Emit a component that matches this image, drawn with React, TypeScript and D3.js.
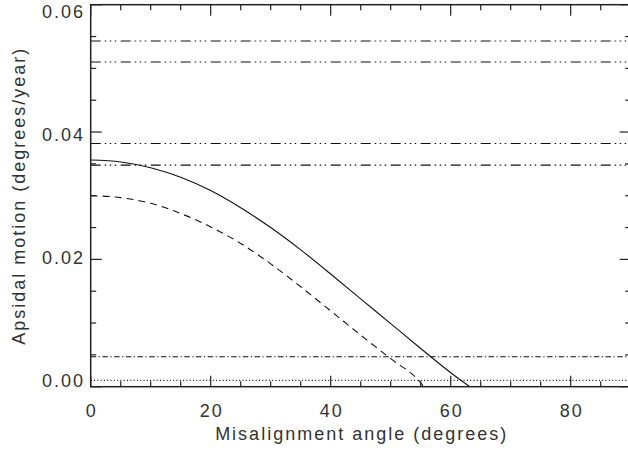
import React from "react";
import * as d3 from "d3";

// Misalignment angle (degrees) and apsidal motion (degrees/year)
const solidAngles = [0, 5, 10, 15, 20, 25, 30, 35, 40, 45, 50, 55, 60, 63.2];
const solidRates = [0.0356, 0.0353, 0.0344, 0.0329, 0.0308, 0.0281, 0.025, 0.0215, 0.0177, 0.0138, 0.0099, 0.006, 0.0022, 0];

const dashedAngles = [0, 5, 10, 15, 20, 25, 30, 35, 40, 45, 50, 55, 55.5];
const dashedRates = [0.03, 0.0297, 0.0288, 0.0272, 0.0251, 0.0225, 0.0193, 0.0157, 0.0119, 0.0081, 0.0044, 0.0006, 0];

// Horizontal reference levels
const dashDotDotLevels = [0.0543, 0.051, 0.0382, 0.0348];
const dashDotLevels = [0.0047];
const dottedLevels = [0.001];

const xTicks = [0, 20, 40, 60, 80];
const yTicks = [0, 0.02, 0.04, 0.06];
const yTickLabels = ["0.00", "0.02", "0.04", "0.06"];

const xTitle = "Misalignment angle (degrees)";
const yTitle = "Apsidal motion (degrees/year)";

const W = 628;
const H = 450;

export default function App() {
  const x = d3.scaleLinear().domain([0, 90]).range([90.7, 630.7]);
  const y = d3.scaleLinear().domain([0, 0.06]).range([386.7, 4.7]);
  // tick labels sit slightly inset from the frame ends
  const yLab = d3.scaleLinear().domain([0, 0.06]).range([381, 12]);

  const line = d3
    .line<[number, number]>()
    .x((d) => x(d[0]))
    .y((d) => y(d[1]))
    .curve(d3.curveMonotoneX);

  const solid = line(solidAngles.map((a, i) => [a, solidRates[i]]) as [number, number][]) || "";
  const dashed = line(dashedAngles.map((a, i) => [a, dashedRates[i]]) as [number, number][]) || "";

  const [x0, x1] = x.range();
  const [y0, y1] = y.range();

  const xMinor = d3.range(0, 90.001, 5);
  const yMinor = d3.range(0, 0.06001, 0.005);
  const isMajorX = (v: number) => Math.abs(v / 20 - Math.round(v / 20)) < 1e-6;
  const isMajorY = (v: number) => Math.abs(v / 0.02 - Math.round(v / 0.02)) < 1e-6;

  const axisColor = "#222";
  const textColor = "#333";
  const font = "'Liberation Sans', Arial, sans-serif";

  return (
    <svg
      width={W}
      height={H}
      style={{ position: "fixed", left: 0, top: 0, background: "#fff" }}
      fontFamily={font}
    >
      <rect x={0} y={0} width={W} height={H} fill="#fff" />
      <defs>
        <clipPath id="plot">
          <rect x={x0} y={y1} width={x1 - x0} height={y0 - y1} />
        </clipPath>
      </defs>

      <g clipPath="url(#plot)" fill="none" stroke="#111" strokeWidth={1.1}>
        {dashDotDotLevels.map((v, i) => (
          <line
            key={"ddd" + i}
            x1={x0}
            x2={x1}
            y1={y(v)}
            y2={y(v)}
            strokeDasharray="10,4,1.5,3.5,1.5,3.5,1.5,4.5"
          />
        ))}
        {dashDotLevels.map((v, i) => (
          <line
            key={"dd" + i}
            x1={x0}
            x2={x1}
            y1={y(v)}
            y2={y(v)}
            strokeDasharray="5.5,2.5,1.2,2.5"
          />
        ))}
        {dottedLevels.map((v, i) => (
          <line
            key={"dot" + i}
            x1={x0}
            x2={x1}
            y1={y(v)}
            y2={y(v)}
            strokeDasharray="1,2.3"
          />
        ))}
        <path d={solid} />
        <path d={dashed} strokeDasharray="7,5" />
      </g>

      {/* frame */}
      <rect x={x0} y={y1} width={x1 - x0} height={y0 - y1} fill="none" stroke={axisColor} strokeWidth={1.5} />

      {/* ticks on all four sides, pointing inward */}
      <g stroke={axisColor} strokeWidth={1.2}>
        {xMinor.map((v, i) => {
          const len = isMajorX(v) ? 11 : 5.5;
          return (
            <g key={"xt" + i}>
              <line x1={x(v)} x2={x(v)} y1={y0} y2={y0 - len} />
              <line x1={x(v)} x2={x(v)} y1={y1} y2={y1 + len} />
            </g>
          );
        })}
        {yMinor.map((v, i) => {
          const len = isMajorY(v) ? 11 : 5.5;
          return (
            <g key={"yt" + i}>
              <line x1={x0} x2={x0 + len} y1={y(v)} y2={y(v)} />
              <line x1={x1} x2={x1 - len} y1={y(v)} y2={y(v)} />
            </g>
          );
        })}
      </g>

      {/* tick labels */}
      <g fill={textColor} fontSize={18} style={{ letterSpacing: "2px" }}>
        {xTicks.map((v, i) => (
          <text key={"xl" + i} x={x(v) + 1} y={417} textAnchor="middle">
            {String(v)}
          </text>
        ))}
        {yTicks.map((v, i) => (
          <text key={"yl" + i} x={85} y={yLab(v)} textAnchor="end" dominantBaseline="central">
            {yTickLabels[i]}
          </text>
        ))}
      </g>

      {/* axis titles */}
      <text
        x={(x0 + x1) / 2 + 1}
        y={440}
        textAnchor="middle"
        fontSize={18}
        fill={textColor}
        style={{ letterSpacing: "2px" }}
      >
        {xTitle}
      </text>
      <text
        transform={`translate(25, ${(y0 + y1) / 2}) rotate(-90)`}
        textAnchor="middle"
        fontSize={18}
        fill={textColor}
        style={{ letterSpacing: "2px" }}
      >
        {yTitle}
      </text>
    </svg>
  );
}
